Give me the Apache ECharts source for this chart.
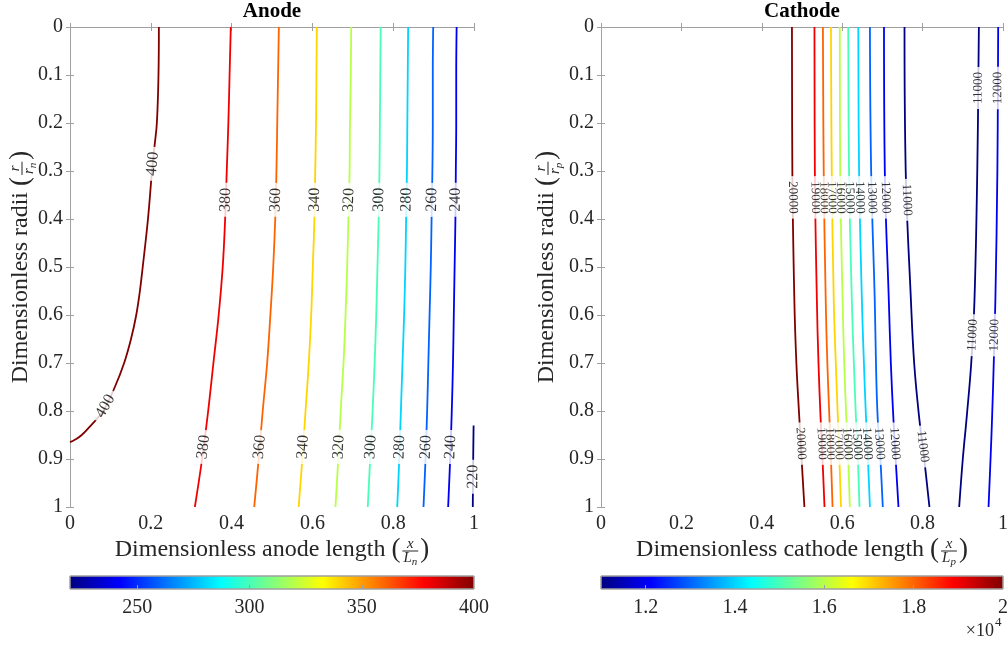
<!DOCTYPE html>
<html>
<head>
<meta charset="utf-8">
<script src="https://cdn.jsdelivr.net/npm/echarts@6/dist/echarts.min.js"></script>
<style>
html, body { margin: 0; padding: 0; background: #fff; }
#chart { width: 1007px; height: 648px; }
</style>
</head>
<body>
<div id="chart"></div>
<script>
// ---------- Anode: contour levels and sampled isolines [x/Ln, r/rn] ----------
const anodeLevels = [400, 380, 360, 340, 320, 300, 280, 260, 240, 220];
const anodeRange = [220, 400];
const anodeContours = [
  [[0.220,0],[0.219,0.1],[0.215,0.2],[0.209,0.25],[0.203,0.3],[0.193,0.4],[0.180,0.5],[0.173,0.55],[0.164,0.6],[0.151,0.65],[0.134,0.7],[0.111,0.75],[0.082,0.8],[0.052,0.83],[0.029,0.85],[0.012,0.86],[0,0.865]],
  [[0.398,0],[0.395,0.1],[0.392,0.2],[0.388,0.3],[0.384,0.4],[0.378,0.5],[0.368,0.6],[0.355,0.7],[0.342,0.8],[0.327,0.9],[0.309,1]],
  [[0.517,0],[0.515,0.1],[0.513,0.2],[0.511,0.3],[0.508,0.4],[0.503,0.5],[0.496,0.6],[0.488,0.7],[0.477,0.8],[0.467,0.9],[0.456,1]],
  [[0.611,0],[0.610,0.1],[0.609,0.2],[0.607,0.3],[0.605,0.4],[0.601,0.5],[0.597,0.6],[0.591,0.7],[0.583,0.8],[0.575,0.9],[0.566,1]],
  [[0.696,0],[0.695,0.1],[0.693,0.2],[0.692,0.3],[0.689,0.4],[0.686,0.5],[0.682,0.6],[0.677,0.7],[0.670,0.8],[0.664,0.9],[0.657,1]],
  [[0.769,0],[0.768,0.1],[0.767,0.2],[0.766,0.3],[0.764,0.4],[0.761,0.5],[0.758,0.6],[0.754,0.7],[0.749,0.8],[0.743,0.9],[0.737,1]],
  [[0.837,0],[0.836,0.1],[0.835,0.2],[0.834,0.3],[0.832,0.4],[0.830,0.5],[0.827,0.6],[0.823,0.7],[0.819,0.8],[0.815,0.9],[0.810,1]],
  [[0.899,0],[0.898,0.1],[0.898,0.2],[0.897,0.3],[0.895,0.4],[0.893,0.5],[0.890,0.6],[0.887,0.7],[0.884,0.8],[0.880,0.9],[0.875,1]],
  [[0.957,0],[0.956,0.1],[0.956,0.2],[0.955,0.3],[0.954,0.4],[0.952,0.5],[0.950,0.6],[0.948,0.7],[0.945,0.8],[0.941,0.9],[0.936,1]],
  [[0.999,0.83],[0.998,0.9],[0.997,1]]
];
// radial positions (r/rn) where each isoline carries its inline label
const anodeLabelAt = [
  [0.285, 0.79], [0.36, 0.875], [0.36, 0.875], [0.36, 0.875], [0.36, 0.875],
  [0.36, 0.875], [0.36, 0.875], [0.36, 0.875], [0.36, 0.875], [0.937]
];

// ---------- Cathode: contour levels and sampled isolines [x/Lp, r/rp] ----------
const cathodeLevels = [20000, 19000, 18000, 17000, 16000, 15000, 14000, 13000, 12000, 11000, 11000, 12000];
const cathodeRange = [11000, 20000];
const cathodeContours = [
  [[0.475,0],[0.476,0.3],[0.481,0.57],[0.486,0.7],[0.493,0.81],[0.499,0.9],[0.506,1]],
  [[0.531,0],[0.532,0.3],[0.537,0.57],[0.541,0.7],[0.546,0.81],[0.551,0.9],[0.556,1]],
  [[0.552,0],[0.554,0.3],[0.559,0.57],[0.563,0.7],[0.568,0.81],[0.572,0.9],[0.576,1]],
  [[0.572,0],[0.574,0.3],[0.579,0.57],[0.584,0.7],[0.589,0.81],[0.593,0.9],[0.597,1]],
  [[0.594,0],[0.595,0.3],[0.601,0.57],[0.605,0.7],[0.610,0.81],[0.615,0.9],[0.619,1]],
  [[0.615,0],[0.617,0.3],[0.624,0.57],[0.629,0.7],[0.634,0.81],[0.639,0.9],[0.643,1]],
  [[0.640,0],[0.642,0.3],[0.649,0.57],[0.654,0.7],[0.659,0.81],[0.664,0.9],[0.669,1]],
  [[0.669,0],[0.672,0.3],[0.681,0.57],[0.684,0.7],[0.688,0.81],[0.695,0.9],[0.701,1]],
  [[0.704,0],[0.706,0.3],[0.716,0.57],[0.721,0.7],[0.727,0.81],[0.733,0.9],[0.740,1]],
  [[0.755,0],[0.758,0.3],[0.771,0.57],[0.779,0.7],[0.791,0.81],[0.804,0.9],[0.817,1]],
  [[0.940,0],[0.936,0.3],[0.929,0.57],[0.921,0.7],[0.910,0.81],[0.900,0.9],[0.891,1]],
  [[0.988,0],[0.986,0.3],[0.981,0.57],[0.977,0.7],[0.973,0.81],[0.969,0.9],[0.964,1]]
];
const cathodeLabelAt = [
  [0.355, 0.868], [0.355, 0.868], [0.355, 0.868], [0.355, 0.868], [0.355, 0.868],
  [0.355, 0.868], [0.355, 0.868], [0.355, 0.868], [0.355, 0.868], [0.36, 0.874],
  [0.127, 0.642], [0.127, 0.642]
];

// ---------- axis ticks ----------
const plotTicks = { x: 0.2, y: 0.1 };
const anodeBarTicks = [250, 300, 350, 400];
const cathodeBarTicks = [12000, 14000, 16000, 18000, 20000];

// ---------- styling helpers ----------
const SERIF = '"Liberation Serif", "Times New Roman", serif';
const AXIS_GRAY = '#a0a0a0';
const TEXT = '#262626';

// MATLAB-style jet colormap
function jetRGB(t) {
  const c = v => Math.round(255 * Math.max(0, Math.min(1, v)));
  return [c(1.5 - Math.abs(4 * t - 3)), c(1.5 - Math.abs(4 * t - 2)), c(1.5 - Math.abs(4 * t - 1))];
}
const jet = t => 'rgb(' + jetRGB(t).join(',') + ')';
const jetStops = [];
for (let i = 0; i <= 32; i++) jetStops.push({ offset: i / 32, color: jet(i / 32) });

function xOnLine(line, y) {
  for (let i = 0; i < line.length - 1; i++) {
    const a = line[i], b = line[i + 1];
    if (y >= a[1] && y <= b[1]) {
      const f = (b[1] === a[1]) ? 0 : (y - a[1]) / (b[1] - a[1]);
      return a[0] + f * (b[0] - a[0]);
    }
  }
  return line[line.length - 1][0];
}

const chart = echarts.init(document.getElementById('chart'), null, { renderer: 'canvas' });

function plotAxes(gridIndex) {
  const common = {
    gridIndex, type: 'value', min: 0, max: 1,
    splitLine: { show: false },
    axisLine: { show: true, lineStyle: { color: AXIS_GRAY, width: 1 } },
    axisTick: { show: true, inside: true, length: 4, lineStyle: { color: AXIS_GRAY } }
  };
  const label = { fontFamily: SERIF, fontSize: 20, color: TEXT };
  return {
    x: [
      Object.assign({}, common, { position: 'bottom', interval: plotTicks.x, axisLabel: Object.assign({ margin: 7 }, label) }),
      Object.assign({}, common, { position: 'top', interval: plotTicks.x, axisLabel: { show: false } })
    ],
    y: [
      Object.assign({}, common, { position: 'left', inverse: true, interval: plotTicks.y, axisLabel: Object.assign({ margin: 7 }, label) }),
      Object.assign({}, common, { position: 'right', inverse: true, interval: plotTicks.y, axisLabel: { show: false } })
    ]
  };
}

function barAxes(gridIndex, range, ticks, fmt) {
  return {
    x: {
      gridIndex, type: 'value', min: range[0], max: range[1], z: 5,
      splitLine: { show: false },
      axisLine: { show: false },
      axisTick: { show: true, inside: true, length: 4, lineStyle: { color: AXIS_GRAY }, customValues: ticks.filter(v => v < range[1]) },
      axisLabel: { fontFamily: SERIF, fontSize: 20, color: TEXT, margin: 9, customValues: ticks, formatter: fmt }
    },
    y: { gridIndex, type: 'value', min: 0, max: 1, show: false }
  };
}

const a1 = plotAxes(0), a2 = plotAxes(1);
const b1 = barAxes(2, anodeRange, anodeBarTicks, v => String(v));
const b2 = barAxes(3, cathodeRange, cathodeBarTicks, v => String(v / 1e4));

function contourSeries(levels, contours, range, axisIdx) {
  return levels.map((lv, i) => ({
    type: 'line', xAxisIndex: axisIdx, yAxisIndex: axisIdx,
    data: contours[i], symbol: 'none', showSymbol: false, smooth: 0.4,
    lineStyle: { width: 1.8, color: jet((lv - range[0]) / (range[1] - range[0])) },
    z: 2, silent: true, clip: true
  }));
}

function labelPoints(levels, contours, labelAt, axisIdx, rotationOf) {
  const pts = [];
  levels.forEach((lv, i) => {
    labelAt[i].forEach(y => {
      const x = xOnLine(contours[i], y);
      pts.push({ value: [x, y, lv], label: { rotate: rotationOf ? rotationOf(contours[i], y, axisIdx) : 90 } });
    });
  });
  return pts;
}

function labelSeries(id, data, axisIdx, fontSize, lineHeight, padX) {
  return {
    id, type: 'scatter', xAxisIndex: axisIdx, yAxisIndex: axisIdx,
    data, symbolSize: 1, itemStyle: { color: 'rgba(0,0,0,0)' }, z: 6, silent: true, clip: false,
    label: {
      show: true, position: 'inside', formatter: p => String(p.value[2]),
      fontFamily: SERIF, fontSize, color: '#000', lineHeight,
      backgroundColor: '#fff', padding: [0, padX]
    }
  };
}

function colorbarSeries(axisIdx, range) {
  return {
    type: 'custom', xAxisIndex: axisIdx, yAxisIndex: axisIdx, data: [range], silent: true, z: 2,
    renderItem: (params, api) => {
      const p0 = api.coord([api.value(0), 0]);
      const p1 = api.coord([api.value(1), 1]);
      return {
        type: 'rect',
        shape: { x: p0[0], y: p1[1], width: p1[0] - p0[0], height: p0[1] - p1[1] },
        style: { fill: new echarts.graphic.LinearGradient(0, 0, 1, 0, jetStops), stroke: AXIS_GRAY, lineWidth: 1 }
      };
    }
  };
}

// ---------- axis titles with stacked fractions ----------
const mctx = document.createElement('canvas').getContext('2d');
function tw(s, font) { mctx.font = font; return mctx.measureText(s).width; }

function txt(x, y, text, size, opts) {
  opts = opts || {};
  return {
    type: 'text', x, y, silent: true,
    style: {
      text, fontFamily: SERIF, fontSize: size, fontStyle: opts.italic ? 'italic' : 'normal',
      fontWeight: opts.bold ? 'bold' : 'normal', fill: opts.color || TEXT,
      textAlign: opts.align || 'left', align: opts.align || 'left',
      textVerticalAlign: 'middle', verticalAlign: 'middle'
    }
  };
}

function mathTitle(cx, cy, rotation, prefix, num, den, sub) {
  const mainSize = 24, parSize = 27, fracSize = 15, subSize = 11;
  const wPre = tw(prefix, `${mainSize}px ${SERIF}`);
  const wPar = tw('(', `${parSize}px ${SERIF}`);
  const wNum = tw(num, `italic ${fracSize}px ${SERIF}`);
  const wDen = tw(den, `italic ${fracSize}px ${SERIF}`);
  const wSub = tw(sub, `italic ${subSize}px ${SERIF}`);
  const wFrac = Math.max(wNum, wDen + wSub) + 4;
  const total = wPre + wPar + 1 + wFrac + 1 + wPar;
  let x = -total / 2;
  const kids = [];
  kids.push(txt(x, 0, prefix, mainSize));
  x += wPre;
  kids.push(txt(x, 0, '(', parSize));
  x += wPar + 1;
  kids.push(txt(x + wFrac / 2, -6, num, fracSize, { italic: true, align: 'center' }));
  kids.push({ type: 'line', silent: true, shape: { x1: x + 1, y1: 1, x2: x + wFrac - 1, y2: 1 }, style: { stroke: TEXT, lineWidth: 1 } });
  const dx = x + (wFrac - wDen - wSub) / 2;
  kids.push(txt(dx, 8, den, fracSize, { italic: true }));
  kids.push(txt(dx + wDen, 12, sub, subSize, { italic: true }));
  x += wFrac + 1;
  kids.push(txt(x, 0, ')', parSize));
  return { type: 'group', x: cx, y: cy, rotation, children: kids };
}

const graphics = [
  txt(272, 12, 'Anode', 21, { bold: true, align: 'center', color: '#000' }),
  txt(802, 12, 'Cathode', 21, { bold: true, align: 'center', color: '#000' }),
  mathTitle(21, 267, Math.PI / 2, 'Dimensionless radii ', 'r', 'r', 'n'),
  mathTitle(547, 267, Math.PI / 2, 'Dimensionless radii ', 'r', 'r', 'p'),
  mathTitle(272, 550, 0, 'Dimensionless anode length ', 'x', 'L', 'n'),
  mathTitle(802, 550, 0, 'Dimensionless cathode length ', 'x', 'L', 'p'),
  txt(994, 631, '\u00d710', 18, { align: 'right' }),
  txt(995, 623, '4', 13)
];

const option = {
  animation: false,
  backgroundColor: '#fff',
  grid: [
    { left: 70, top: 27, width: 404, height: 480, outerBoundsMode: 'none' },
    { left: 601, top: 27, width: 402, height: 480, outerBoundsMode: 'none' },
    { left: 70, top: 576, width: 404, height: 13, outerBoundsMode: 'none' },
    { left: 601, top: 576, width: 402, height: 13, outerBoundsMode: 'none' }
  ],
  xAxis: [a1.x[0], a1.x[1], a2.x[0], a2.x[1], b1.x, b2.x],
  yAxis: [a1.y[0], a1.y[1], a2.y[0], a2.y[1], b1.y, b2.y],
  graphic: graphics,
  series: [].concat(
    contourSeries(anodeLevels, anodeContours, anodeRange, 0),
    contourSeries(cathodeLevels, cathodeContours, cathodeRange, 2),
    [labelSeries('anodeLabels', labelPoints(anodeLevels, anodeContours, anodeLabelAt, 0), 0, 16, 14, 5)],
    [labelSeries('cathodeLabels', labelPoints(cathodeLevels, cathodeContours, cathodeLabelAt, 2), 2, 13, 9, 5)],
    [colorbarSeries(4, anodeRange), colorbarSeries(5, cathodeRange)]
  )
};
chart.setOption(option);

// orient each inline label along its isoline (kept readable: angle in (-90, 90])
function rotationOf(line, y, axisIdx) {
  const finder = { xAxisIndex: axisIdx, yAxisIndex: axisIdx };
  const y0 = Math.max(line[0][1], y - 0.02), y1 = Math.min(line[line.length - 1][1], y + 0.02);
  const pUp = chart.convertToPixel(finder, [xOnLine(line, y0), y0]);
  const pDn = chart.convertToPixel(finder, [xOnLine(line, y1), y1]);
  let ang = Math.atan2(-(pUp[1] - pDn[1]), pUp[0] - pDn[0]) * 180 / Math.PI;
  if (ang > 90) ang -= 180;
  if (ang <= -90) ang += 180;
  return ang;
}
chart.setOption({
  series: [
    { id: 'anodeLabels', data: labelPoints(anodeLevels, anodeContours, anodeLabelAt, 0, rotationOf) },
    { id: 'cathodeLabels', data: labelPoints(cathodeLevels, cathodeContours, cathodeLabelAt, 2, rotationOf) }
  ]
});
</script>
</body>
</html>
